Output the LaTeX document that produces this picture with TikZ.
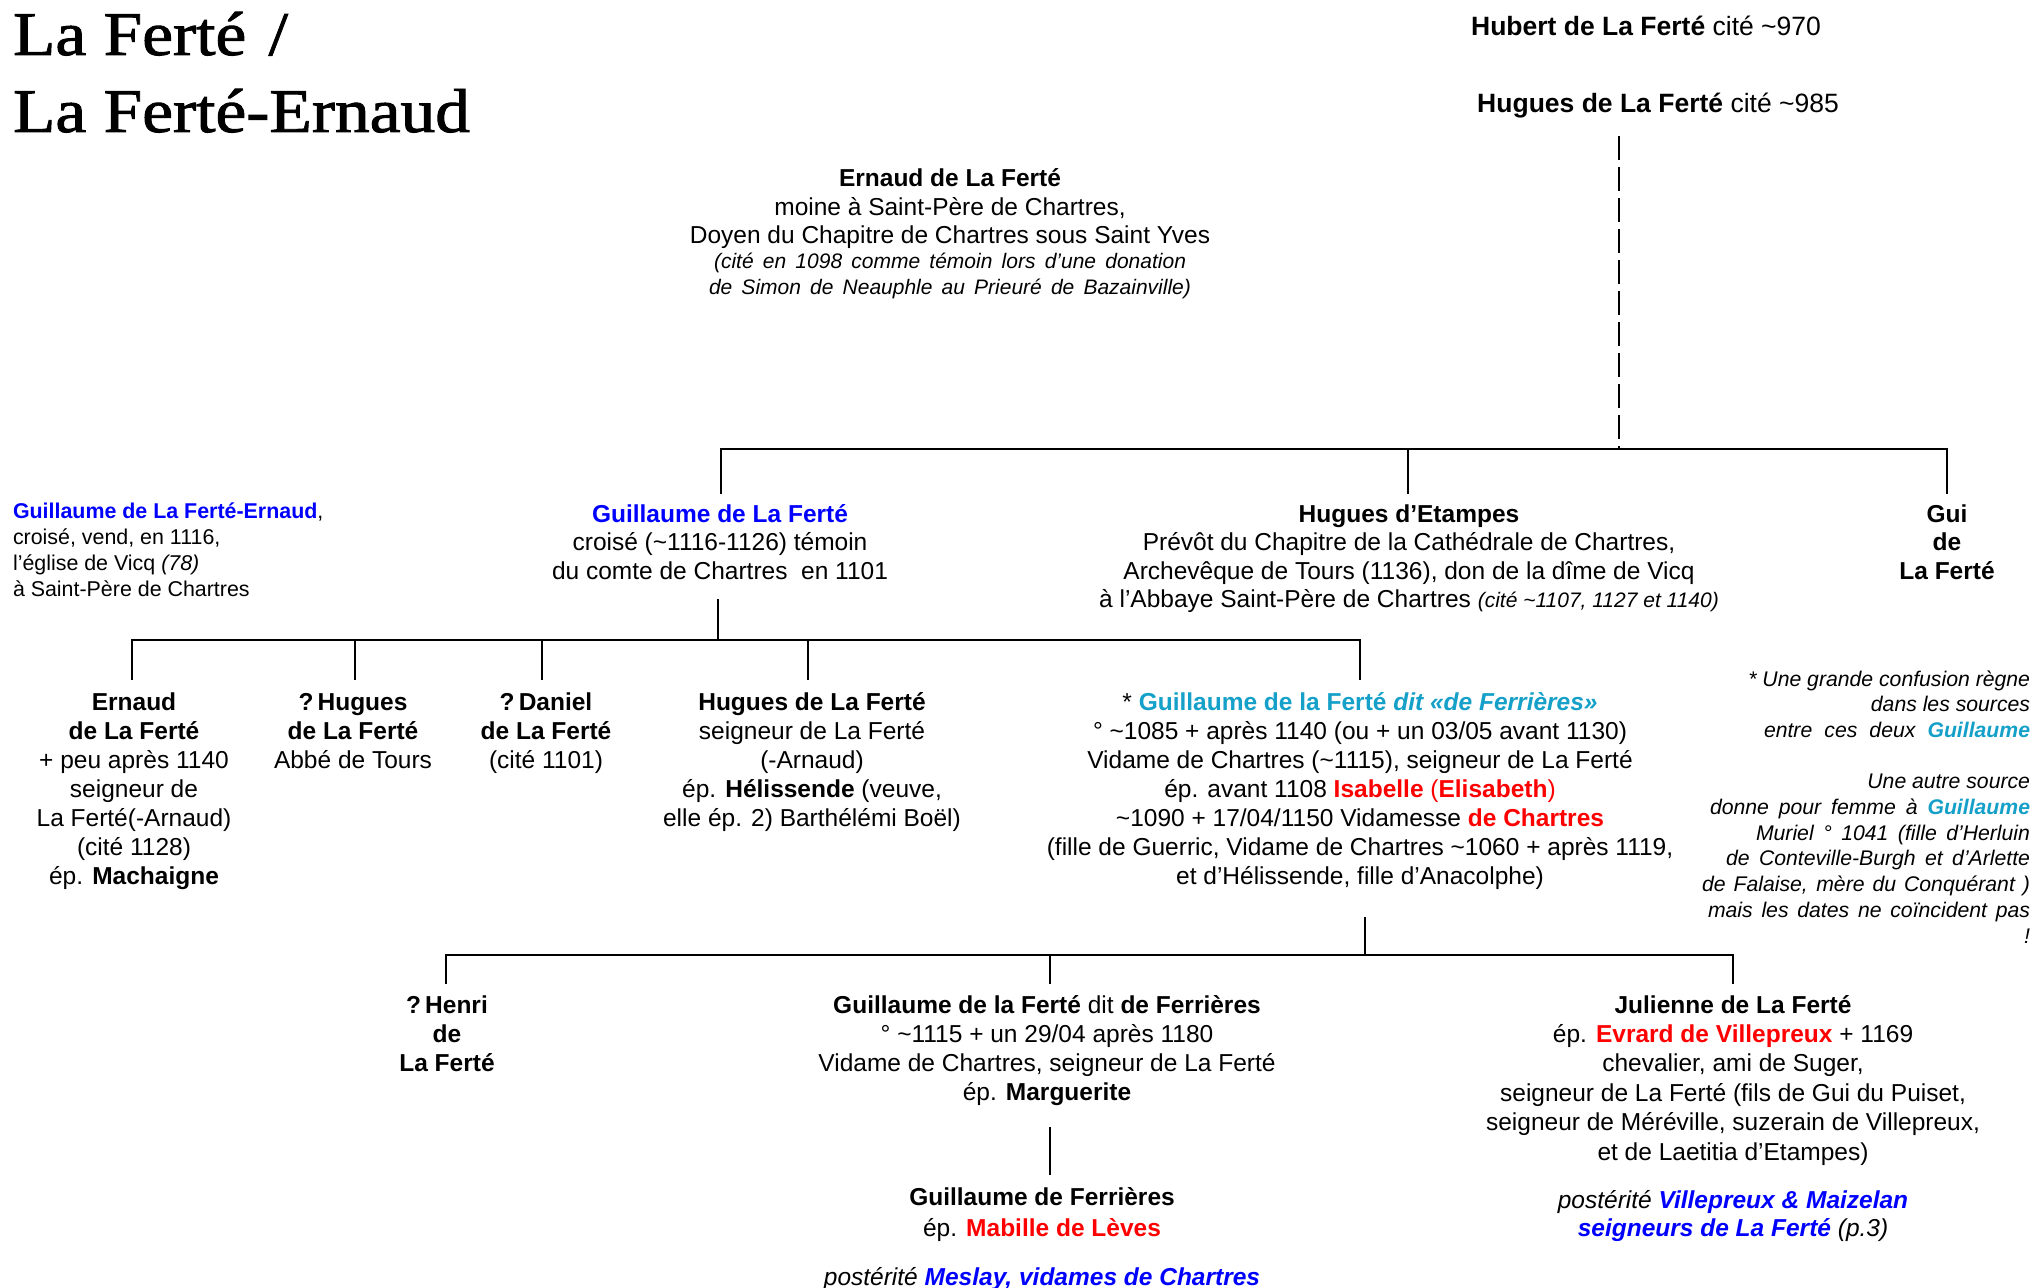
\documentclass[tikz,border=0pt]{standalone}
\usepackage{fontspec}
\setmainfont{Liberation Sans}
\newfontfamily\titlef[FakeStretch=1.12,FakeBold=1.5]{Liberation Serif}
\definecolor{gblue}{RGB}{0,0,255}
\definecolor{gcyan}{RGB}{20,160,200}
\definecolor{gred}{RGB}{255,0,0}
\newcommand{\tld}{\textasciitilde}
\newcommand{\rc}[1]{\begin{tabular}[t]{@{}c@{}}#1\end{tabular}}
\newcommand{\rl}[1]{\begin{tabular}[t]{@{}l@{}}#1\end{tabular}}
\newcommand{\rr}[1]{\begin{tabular}[t]{@{}r@{}}#1\end{tabular}}
\newcommand{\spread}[2]{\makebox[#1][s]{#2}}
\tikzset{
  txt/.style={inner sep=0pt, outer sep=0pt, anchor=base, font=\fontsize{12.25pt}{14.5pt}\selectfont},
  smalltxt/.style={txt, font=\fontsize{10.7pt}{13pt}\selectfont},
  notetxt/.style={txt, anchor=base east, font=\fontsize{10.6pt}{12.85pt}\selectfont\itshape},
  conn/.style={line width=1.2pt, line cap=rect},
  dashline/.style={line width=1.3pt, dash pattern=on 12pt off 3.5pt}
}
\begin{document}
\begin{tikzpicture}[x=0.5pt,y=-0.5pt]
\useasboundingbox[fill=white] (0,0) rectangle (2037,1288);

% title
\node[txt, anchor=base west, font=\fontsize{31pt}{38.5pt}\titlef] (title) at (13,55)
  {\rl{La Ferté\hspace{2.5pt} /\\La Ferté-Ernaud}};

% ancestors
\node[txt, font=\fontsize{13.25pt}{15pt}\selectfont] (hubert) at (1646,36)
  {\textbf{Hubert de La Ferté} cité \tld970};
\node[txt, font=\fontsize{13.25pt}{15pt}\selectfont] (hugues0) at (1658,113)
  {\textbf{Hugues de La Ferté} cité \tld985};

% Ernaud (moine)
\node[txt, font=\fontsize{12.25pt}{14.25pt}\selectfont] (ernaudM) at (950,187)
  {\rc{\textbf{Ernaud de La Ferté}\\
  moine à Saint-Père de Chartres,\\
  Doyen du Chapitre de Chartres sous Saint Yves\\[-1.75pt]
  {\fontsize{10.5pt}{13pt}\selectfont\itshape \spread{236pt}{(cité en 1098 comme témoin lors d’une donation}}\\[-1.25pt]
  {\fontsize{10.5pt}{13pt}\selectfont\itshape \spread{241pt}{de Simon de Neauphle au Prieuré de Bazainville)}}}};

% Guillaume de La Ferté-Ernaud (left note)
\node[smalltxt, anchor=base west] (guilErnaud) at (13,518)
  {\rl{\textcolor{gblue}{\textbf{Guillaume de La Ferté-Ernaud}},\\
  croisé, vend, en 1116,\\
  l’église de Vicq \textit{(78)}\\
  à Saint-Père de Chartres}};

% generation 2
\node[txt, font=\fontsize{12.25pt}{14.3pt}\selectfont] (guil) at (720,522)
  {\rc{\textcolor{gblue}{\textbf{Guillaume de La Ferté}}\\
  croisé (\tld1116-1126) témoin\\
  du comte de Chartres\ \ en 1101}};
\node[txt, font=\fontsize{12.25pt}{14.3pt}\selectfont] (hetampes) at (1409,522)
  {\rc{\textbf{Hugues d’Etampes}\\
  Prévôt du Chapitre de la Cathédrale de Chartres,\\
  Archevêque de Tours (1136), don de la dîme de Vicq\\
  à l’Abbaye Saint-Père de Chartres {\fontsize{10.5pt}{12pt}\selectfont\itshape (cité \tld1107, 1127 et 1140)}}};
\node[txt, font=\fontsize{12.25pt}{14.3pt}\selectfont] (gui) at (1947,522)
  {\rc{\textbf{Gui}\\\textbf{de}\\\textbf{La Ferté}}};

% generation 3
\node[txt] (ernaudC) at (134,710)
  {\rc{\textbf{Ernaud}\\
  \textbf{de La Ferté}\\
  + peu après 1140\\
  seigneur de\\
  La Ferté(-Arnaud)\\
  (cité 1128)\\
  ép. \textbf{Machaigne}}};
\node[txt] (huguesQ) at (353,710)
  {\rc{\textbf{?\,Hugues}\\\textbf{de La Ferté}\\Abbé de Tours}};
\node[txt] (danielQ) at (546,710)
  {\rc{\textbf{?\,Daniel}\\\textbf{de La Ferté}\\(cité 1101)}};
\node[txt] (huguesLF) at (812,710)
  {\rc{\textbf{Hugues de La Ferté}\\
  seigneur de La Ferté\\
  (-Arnaud)\\
  ép. \textbf{Hélissende} (veuve,\\
  elle ép. 2) Barthélémi Boël)}};
\node[txt] (guilD) at (1360,710)
  {\rc{* \textcolor{gcyan}{\textbf{Guillaume de la Ferté \textit{dit «de Ferrières»}}}\\
  ° \tld1085 + après 1140 (ou + un 03/05 avant 1130)\\
  Vidame de Chartres (\tld1115), seigneur de La Ferté\\
  ép. avant 1108 \textcolor{gred}{\textbf{Isabelle} (\textbf{Elisabeth})}\\
  \tld1090 + 17/04/1150 Vidamesse \textcolor{gred}{\textbf{de Chartres}}\\
  (fille de Guerric, Vidame de Chartres \tld1060 + après 1119,\\
  et d’Hélissende, fille d’Anacolphe)}};

% right notes
\node[notetxt] (notes) at (2030,686)
  {\rr{* Une grande confusion règne\\
  dans les sources\\
  \spread{133pt}{entre ces deux \textcolor{gcyan}{\textbf{Guillaume}}}\\
  \\
  Une autre source\\
  \spread{160pt}{donne pour femme à \textcolor{gcyan}{\textbf{Guillaume}}}\\
  \spread{137pt}{Muriel ° 1041 (fille d’Herluin}\\
  \spread{152pt}{de Conteville-Burgh et d’Arlette}\\
  \spread{164pt}{de Falaise, mère du Conquérant )}\\
  \spread{161pt}{mais les dates ne coïncident pas}\\
  !}};

% generation 4
\node[txt] (henri) at (447,1013)
  {\rc{\textbf{?\,Henri}\\\textbf{de}\\\textbf{La Ferté}}};
\node[txt] (guilF) at (1047,1013)
  {\rc{\textbf{Guillaume de la Ferté} dit \textbf{de Ferrières}\\
  ° \tld1115 + un 29/04 après 1180\\
  Vidame de Chartres, seigneur de La Ferté\\
  ép. \textbf{Marguerite}}};
\node[txt, font=\fontsize{12.25pt}{14.7pt}\selectfont] (julienne) at (1733,1013)
  {\rc{\textbf{Julienne de La Ferté}\\
  ép. \textcolor{gred}{\textbf{Evrard de Villepreux}} + 1169\\
  chevalier, ami de Suger,\\
  seigneur de La Ferté (fils de Gui du Puiset,\\
  seigneur de Méréville, suzerain de Villepreux,\\
  et de Laetitia d’Etampes)\\[9.3pt]
  \textit{postérité \textcolor{gblue}{\textbf{Villepreux \& Maizelan}}}\\[-0.7pt]
  \textit{\textcolor{gblue}{\textbf{seigneurs de La Ferté}} (p.3)}}};

% generation 5
\node[txt] (guilF2) at (1042,1205)
  {\rc{\textbf{Guillaume de Ferrières}\\[1.2pt]
  ép. \textcolor{gred}{\textbf{Mabille de Lèves}}\\[10.2pt]
  \textit{postérité \textcolor{gblue}{\textbf{Meslay, vidames de Chartres}}}}};

% connectors
\coordinate (dT) at (1619,136);
\coordinate (j1) at (1619,449);
\coordinate (b1a) at (721,449);  \coordinate (b1b) at (1408,449); \coordinate (b1c) at (1947,449);
\coordinate (e1a) at (721,493);  \coordinate (e1b) at (1408,493); \coordinate (e1c) at (1947,493);
\draw[dashline] (dT) -- (j1);
\draw[conn] (b1a) -- (b1c);
\draw[conn] (b1a) -- (e1a);
\draw[conn] (b1b) -- (e1b);
\draw[conn] (b1c) -- (e1c);

\coordinate (g2t) at (718,600); \coordinate (g2b) at (718,640);
\coordinate (b2a) at (132,640); \coordinate (b2b) at (355,640); \coordinate (b2c) at (542,640);
\coordinate (b2d) at (808,640); \coordinate (b2e) at (1360,640);
\coordinate (e2a) at (132,679); \coordinate (e2b) at (355,679); \coordinate (e2c) at (542,679);
\coordinate (e2d) at (808,679); \coordinate (e2e) at (1360,679);
\draw[conn] (g2t) -- (g2b);
\draw[conn] (b2a) -- (b2e);
\draw[conn] (b2a) -- (e2a);
\draw[conn] (b2b) -- (e2b);
\draw[conn] (b2c) -- (e2c);
\draw[conn] (b2d) -- (e2d);
\draw[conn] (b2e) -- (e2e);

\coordinate (g3t) at (1365,918); \coordinate (g3b) at (1365,955);
\coordinate (b3a) at (446,955); \coordinate (b3b) at (1050,955); \coordinate (b3c) at (1733,955);
\coordinate (e3a) at (446,983); \coordinate (e3b) at (1050,983); \coordinate (e3c) at (1733,983);
\draw[conn] (g3t) -- (g3b);
\draw[conn] (b3a) -- (b3c);
\draw[conn] (b3a) -- (e3a);
\draw[conn] (b3b) -- (e3b);
\draw[conn] (b3c) -- (e3c);

\coordinate (g4t) at (1050,1128); \coordinate (g4b) at (1050,1174);
\draw[conn] (g4t) -- (g4b);
\end{tikzpicture}
\end{document}
